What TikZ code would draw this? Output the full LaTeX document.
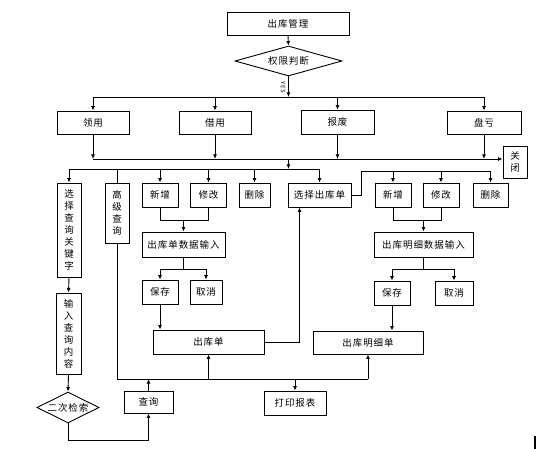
\documentclass[tikz,border=0pt]{standalone}
\usepackage{fontspec}
\setmainfont{Noto Sans CJK SC}[LetterSpace=10]
\usetikzlibrary{arrows.meta,shapes.geometric}

\tikzset{
  box/.style={draw, line width=0.9pt, inner sep=0pt, font=\fontsize{9.5}{12}\selectfont},
  vbox/.style={box, align=center},
  dia/.style={draw, diamond, line width=0.9pt, inner sep=0pt, font=\fontsize{9.5}{12}\selectfont},
  arr/.style={-{Latex[length=4.5pt,width=4pt]}},
  ln/.style={line width=0.9pt}
}

\begin{document}
\begin{tikzpicture}[x=1pt,y=-1pt,line width=0.9pt]
		% page size as the reference
		\useasboundingbox (0,0) rectangle (552,449);
		
		% heights of the bus lines
		\def\busA{97}
		\def\busB{159}
		\def\busC{169}
		\def\busD{171}
		\def\busE{379}
		\coordinate (bA) at (0,\busA);
		\coordinate (bB) at (0,\busB);
		\coordinate (bC) at (0,\busC);
		\coordinate (bD) at (0,\busD);
		\coordinate (bE) at (0,\busE);
		
		% top of the chart
		\node[box, minimum width=122pt, minimum height=23pt] (ckgl) at (288,23.5) {出库管理};
		\node[dia, aspect=3.5, minimum width=107pt, minimum height=30pt] (qxpd) at (288.5,61) {权限判断};
		\draw[arr] (ckgl.south) -- (qxpd.north);
		\draw[arr] (qxpd.south) -- (qxpd.south |- bA);
		\node[rotate=-90, font=\fontsize{6}{6}\selectfont, inner sep=0pt] (yes) at (283,87) {YES};
		
		% first row: the four kinds
		\node[box, minimum width=72pt, minimum height=23pt] (ly) at (93,122.5) {领用};
		\node[box, minimum width=72pt, minimum height=23pt] (jy) at (215,122.5) {借用};
		\node[box, minimum width=73pt, minimum height=24pt] (bf) at (337.5,122) {报废};
		\node[box, minimum width=74pt, minimum height=23pt] (pk) at (484,122.5) {盘亏};
		\node[vbox, minimum width=24pt, minimum height=32pt] (gb) at (515,162) {关\\闭};
		
		\draw (bA -| ly) -- (bA -| pk);
		\foreach \n in {ly,jy,bf,pk}{
			\draw[arr] (bA -| \n) -- (\n.north);
			\draw[arr] (\n.south) -- (bB -| \n);
		}
		\draw[arr] (bB -| ly) -- (bB -| gb.west);
		\draw[arr] (bB -| qxpd) -- (bC -| qxpd);
		
		% second row
		\node[vbox, minimum width=24pt, minimum height=94pt] (xzgjz) at (69,230) {选\\择\\查\\询\\关\\键\\字};
		\node[vbox, minimum width=24pt, minimum height=60pt] (gjcx) at (117,213) {高\\级\\查\\询};
		\node[box, minimum width=36pt, minimum height=24pt] (xzA) at (160,195) {新增};
		\node[box, minimum width=36pt, minimum height=24pt] (xgA) at (208.5,195) {修改};
		\node[box, minimum width=31pt, minimum height=24pt] (scA) at (254.5,195) {删除};
		\node[box, minimum width=63pt, minimum height=24pt] (xzck) at (319.5,195) {选择出库单};
		\node[box, minimum width=36pt, minimum height=24pt] (xzB) at (393,195) {新增};
		\node[box, minimum width=36pt, minimum height=24pt] (xgB) at (441,195) {修改};
		\node[box, minimum width=35pt, minimum height=24pt] (scB) at (490.5,195) {删除};
		
		\draw (bC -| xzgjz) -- (bC -| xzck);
		\foreach \n in {xzgjz,xzA,xgA,scA,xzck}{
			\draw[arr] (bC -| \n) -- (\n.north);
		}
		\draw (bC -| gjcx) -- (gjcx.north);
		
		% from the chosen sheet to its details
		\draw (xzck.east) -- ++(10,0) |- (bD -| scB);
		\foreach \n in {xzB,xgB,scB}{
			\draw[arr] (bD -| \n) -- (\n.north);
		}
		
		% data input of the sheet
		\node[box, minimum width=83pt, minimum height=25pt] (srA) at (183.5,244.5) {出库单数据输入};
		\node[box, minimum width=36pt, minimum height=24pt] (bcA) at (160,292) {保存};
		\node[box, minimum width=32pt, minimum height=24pt] (qxA) at (206,292) {取消};
		\draw (xzA.south) -- ++(0,13) -| (xgA.south);
		\draw[arr] (srA.north |- 0,220) -- (srA.north);
		\draw (srA.south) -- (srA.south |- 0,269);
		\draw (bcA.north |- 0,269) -- (qxA.north |- 0,269);
		\draw[arr] (bcA.north |- 0,269) -- (bcA.north);
		\draw[arr] (qxA.north |- 0,269) -- (qxA.north);
		
		% data input of the details
		\node[box, minimum width=99pt, minimum height=25pt] (srB) at (423.5,244.5) {出库明细数据输入};
		\node[box, minimum width=36pt, minimum height=24pt] (bcB) at (392,293) {保存};
		\node[box, minimum width=38pt, minimum height=24pt] (qxB) at (454,293) {取消};
		\draw (xzB.south) -- ++(0,13) -| (xgB.south);
		\draw[arr] (srB.north |- 0,220) -- (srB.north);
		\draw (srB.south) -- (srB.south |- 0,269);
		\draw (bcB.north |- 0,269) -- (qxB.north |- 0,269);
		\draw[arr] (bcB.north |- 0,269) -- (bcB.north);
		\draw[arr] (qxB.north |- 0,269) -- (qxB.north);
		
		% the two sheets
		\node[box, minimum width=111pt, minimum height=24pt] (ckd) at (208.5,342) {出库单};
		\node[box, minimum width=110pt, minimum height=23pt] (mxd) at (368,342.5) {出库明细单};
		\draw[arr] (bcA.south) -- (bcA.south |- ckd.north);
		\draw[arr] (bcB.south) -- (bcB.south |- mxd.north);
		\draw[arr] (ckd.east) -| ([xshift=12pt]xzck.south west);
		
		% query side
		\node[vbox, minimum width=25pt, minimum height=81pt] (srnr) at (68.5,333.5) {输\\入\\查\\询\\内\\容};
		\node[dia, aspect=2, minimum width=62pt, minimum height=31pt] (ecjs) at (68,407.5) {二次检索};
		\node[box, minimum width=49pt, minimum height=22pt] (cx) at (148.5,402) {查询};
		\node[box, minimum width=62pt, minimum height=24pt] (dy) at (295,403) {打印报表};
		\draw[arr] (xzgjz.south) -- (srnr.north);
		\draw[arr] (srnr.south) -- (ecjs.north);
		\draw[arr] (ecjs.south) -- ++(0,17) -| (cx.south);
		
		% bottom bus to the sheets and the report
		\draw (gjcx.south) |- (bE -| mxd);
		\draw[arr] (cx.north) -- (bE -| cx);
		\draw[arr] (bE -| ckd) -- (ckd.south);
		\draw[arr] (bE -| mxd) -- (mxd.south);
		\draw[arr] (bE -| dy) -- (dy.north);
		
		% mark at the lower right
		\coordinate (mk) at (535,436);
		\draw[line width=2pt] (mk) -- ++(0,13);
	\end{tikzpicture}
\end{document}
